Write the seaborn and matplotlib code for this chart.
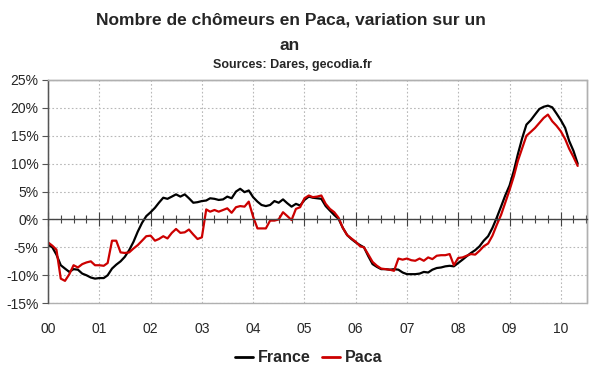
import pandas as pd
import numpy as np
import matplotlib
matplotlib.use("Agg")
import matplotlib.pyplot as plt
import matplotlib.dates as mdates
from matplotlib.lines import Line2D
from matplotlib.ticker import FuncFormatter
import seaborn as sns

# monthly data, Jan 2000 -> May 2010 (year-on-year change, %)
start = "2000-01-01"
n_months = 125

france = [
    -4.5, -5.0, -6.3, -8.2, -8.8, -9.4, -8.9, -9.0, -9.7, -10.0, -10.4, -10.6,
    -10.5, -10.5, -10.0, -8.8, -8.1, -7.5, -6.7, -5.5, -4.0, -2.2, -0.6, 0.6,
    1.3, 2.1, 3.0, 3.9, 3.7, 4.1, 4.5, 4.1, 4.5, 3.8, 3.0, 3.1,
    3.3, 3.4, 3.8, 3.7, 3.5, 3.6, 4.1, 3.8, 5.0, 5.5, 4.9, 5.2,
    4.0, 3.2, 2.6, 2.4, 2.6, 3.3, 3.0, 3.6, 2.9, 2.3, 2.8, 2.5,
    3.5, 4.1, 3.9, 3.8, 3.7, 2.4, 1.6, 0.8, 0.1, -1.5, -2.8, -3.5,
    -4.1, -4.6, -5.0, -6.6, -8.0, -8.5, -8.9, -8.9, -9.0, -8.9, -9.0, -9.5,
    -9.8, -9.8, -9.8, -9.7, -9.4, -9.5, -9.0, -8.7, -8.6, -8.4, -8.3, -8.4,
    -7.8, -7.2, -6.6, -6.0, -5.5, -4.8, -3.8, -3.0, -1.5, 0.3, 2.3, 4.3,
    6.1, 8.8, 11.7, 14.6, 17.0, 17.8, 18.8, 19.8, 20.2, 20.4, 20.1, 19.0,
    17.8, 16.4, 14.1, 12.3, 10.0,
]

paca = [
    -4.1, -4.7, -5.4, -10.6, -11.0, -9.8, -8.2, -8.6, -8.0, -7.7, -7.5, -8.2,
    -8.2, -8.3, -7.8, -3.8, -3.8, -5.9, -6.0, -5.9, -5.2, -4.6, -3.8, -3.0,
    -2.9, -3.8, -3.5, -3.0, -3.4, -2.4, -1.7, -2.4, -2.3, -1.8, -2.7, -3.5,
    -3.2, 1.8, 1.4, 1.7, 1.4, 1.7, 2.0, 1.2, 2.2, 2.4, 2.3, 3.2,
    0.5, -1.6, -1.6, -1.6, -0.2, -0.2, 0.0, 1.3, 0.6, -0.1, 1.9, 2.2,
    3.8, 4.3, 4.0, 4.1, 4.3, 2.8, 1.9, 1.3, 0.3, -1.5, -2.8, -3.4,
    -4.0, -4.8, -5.0, -6.3, -7.6, -8.3, -8.8, -8.9, -9.0, -9.2, -7.0, -7.2,
    -7.0, -7.3, -7.4, -7.0, -7.4, -6.8, -7.1, -6.5, -6.4, -6.4, -6.2, -8.2,
    -6.9, -6.8, -6.5, -6.2, -6.3, -5.6, -4.8, -4.3, -2.9, -1.0, 0.8, 3.0,
    5.3, 7.8, 10.5, 12.8, 15.0, 15.7, 16.4, 17.3, 18.2, 18.8, 17.6, 16.8,
    15.8, 14.4, 12.7, 11.2, 9.6,
]

series_names = ["France", "Paca"]
colors = ["#000000", "#cc0000"]
year_labels = ["00", "01", "02", "03", "04", "05", "06", "07", "08", "09", "10"]
y_ticks = [-15, -10, -5, 0, 5, 10, 15, 20, 25]

dates = pd.date_range(start, periods=n_months, freq="MS")
df = pd.DataFrame({"date": dates, "France": france, "Paca": paca})
df = df.melt(id_vars="date", var_name="serie", value_name="value")

sns.set_style("white")
plt.rcParams["font.family"] = ["Liberation Sans", "DejaVu Sans"]

fig = plt.figure(figsize=(6, 3.72), dpi=100)
ax = fig.add_axes([0.08, 0.185, 0.898, 0.600])

sns.lineplot(data=df, x="date", y="value", hue="serie", palette=colors,
             hue_order=series_names, linewidth=1.6, legend=False, ax=ax)

ax.set_ylim(-15, 25)
ax.set_xlim(pd.Timestamp("2000-01-01"), pd.Timestamp("2010-07-05"))
ax.set_xlabel("")
ax.set_ylabel("")

# grid
ax.grid(True, which="major", linestyle=(0, (1.5, 2)), color="#b8b8b8", linewidth=0.8)
ax.set_axisbelow(True)

# y axis
ax.set_yticks(y_ticks)
ax.yaxis.set_major_formatter(FuncFormatter(lambda v, p: f"{v:.0f}%"))
ax.tick_params(axis="y", left=True, direction="out", length=4, width=0.8,
               color="#555555", labelsize=10, pad=3)

# x axis: spine on the zero line, year labels below the plot
year_ticks = pd.date_range("2000-01-01", periods=len(year_labels), freq="YS")
ax.set_xticks(year_ticks)
ax.set_xticklabels(year_labels)
ax.xaxis.set_minor_locator(mdates.MonthLocator(bymonth=[1, 4, 7, 10]))
ax.spines["bottom"].set_position(("data", 0))
ax.spines["bottom"].set_color("#444444")
ax.spines["bottom"].set_linewidth(1.0)
ax.tick_params(axis="x", which="major", bottom=True, direction="inout", length=10,
               width=0.8, color="#444444", labelsize=10, pad=69)
ax.tick_params(axis="x", which="minor", bottom=True, direction="inout", length=6,
               width=0.8, color="#444444")

ax.spines["left"].set_color("#555555")
ax.spines["left"].set_linewidth(1.0)
for s in ["top", "right"]:
    ax.spines[s].set_color("#b0b0b0")
    ax.spines[s].set_linewidth(1.0)
ax.patch.set_edgecolor("#b0b0b0")
ax.patch.set_linewidth(1.0)

# titles
fig.text(0.485, 0.946, "Nombre de chômeurs en Paca, variation sur un",
         ha="center", va="center", fontsize=12.5, fontweight="bold")
fig.text(0.483, 0.879, "an", ha="center", va="center", fontsize=12.5,
         fontweight="bold")
fig.text(0.487, 0.825, "Sources: Dares, gecodia.fr", ha="center", va="center",
         fontsize=9, fontweight="bold")

# legend
handles = [Line2D([0], [0], color=c, linewidth=2) for c in colors]
fig.legend(handles, series_names, loc="center", bbox_to_anchor=(0.515, 0.038),
           ncol=2, frameon=False, handlelength=1.1, handletextpad=0.35,
           columnspacing=0.7, prop={"weight": "bold", "size": 11.5})

fig.savefig("out.png", dpi=100)
